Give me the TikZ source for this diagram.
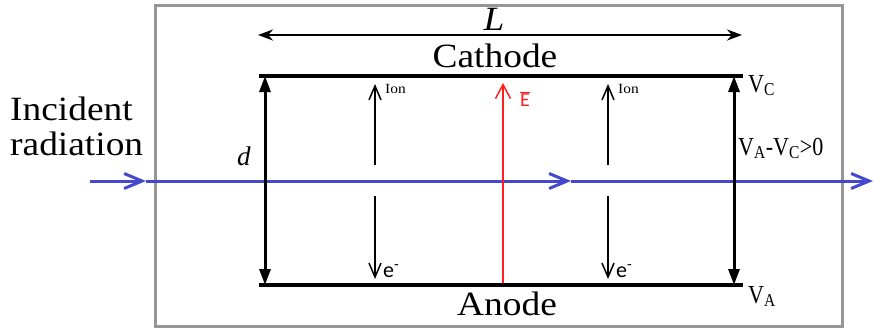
\documentclass[tikz,border=0pt]{standalone}
\usepackage{fontspec}
\usepackage{graphicx}
\setmainfont{Liberation Serif}
\newfontfamily\cfont{Carlito}
\newcommand\wideit[1]{\scalebox{1.1}[1]{#1}}
\newcommand\narrowit[1]{\scalebox{0.85}[1]{#1}}
\usetikzlibrary{arrows.meta}
\definecolor{beam}{RGB}{68,72,204}
\definecolor{fieldred}{RGB}{255,30,30}
\definecolor{framegray}{RGB}{150,150,150}
\begin{document}
\begin{tikzpicture}[x=1pt,y=-1pt,
  lbl/.style={inner sep=0pt, anchor=base west},
  big/.style={inner sep=0pt, anchor=base, font=\rmfamily\fontsize{34}{35}\selectfont},
  vlbl/.style={inner sep=0pt, anchor=base west, font=\rmfamily\fontsize{26}{28}\selectfont},
  plate/.style={line width=3.5pt},
  gap/.style={line width=3pt, {Triangle[length=16pt,width=11pt]}-{Triangle[length=16pt,width=11pt]}},
  span/.style={line width=2.5pt, {Stealth[length=15pt,width=11pt]}-{Stealth[length=15pt,width=11pt]}},
  drift/.style={line width=1.5pt, -{Straight Barb[length=14pt,width=12pt]}},
  ray/.style={draw=beam, line width=3pt, -{Straight Barb[length=18pt,width=15pt,line width=3pt]}},
  field/.style={draw=fieldred, line width=1.5pt, -{Straight Barb[length=14pt,width=15pt]}}
]
\useasboundingbox (0,0) rectangle (874,329);
% frame
\draw[framegray, line width=3pt] (155,6) rectangle (842,326);
% coordinates
\coordinate (cL) at (259,76);  \coordinate (cR) at (743,76);
\coordinate (aL) at (259,285); \coordinate (aR) at (743,285);
\coordinate (dT) at (265,76);  \coordinate (dB) at (265,285);
\coordinate (vT) at (734,76);  \coordinate (vB) at (734,285);
\coordinate (Ls) at (258,35);  \coordinate (Le) at (742,35);
\coordinate (b0) at (90,181);  \coordinate (b1) at (146,181);
\coordinate (b2) at (571,181); \coordinate (b3) at (873,181);
\coordinate (i1s) at (375,165); \coordinate (i1e) at (375,84);
\coordinate (i2s) at (608,165); \coordinate (i2e) at (608,84);
\coordinate (e1s) at (375,196); \coordinate (e1e) at (375,279);
\coordinate (e2s) at (608,196); \coordinate (e2e) at (608,279);
\coordinate (fS) at (503,283);  \coordinate (fE) at (503,83);
% beam
\draw[ray] (b0) -- (b1);
\draw[ray] (b1) -- (b2);
\draw[ray] (b2) -- (b3);
% plates
\draw[plate] (cL) -- (cR);
\draw[plate] (aL) -- (aR);
\draw[gap] (dB) -- (dT);
\draw[gap] (vB) -- (vT);
\draw[span] (Ls) -- (Le);
% drift arrows
\draw[drift] (i1s) -- (i1e);
\draw[drift] (i2s) -- (i2e);
\draw[drift] (e1s) -- (e1e);
\draw[drift] (e2s) -- (e2e);
\draw[field] (fS) -- (fE);
% labels
\node[big] (Lt) at (494,31) {\wideit{\itshape L}};
\node[big] (cat) at (495,67) {\wideit{Cathode}};
\node[big] (ano) at (507,315) {\wideit{Anode}};
\node[lbl, align=left, font=\rmfamily\fontsize{34}{35}\selectfont] (inc) at (10,155) {\wideit{Incident}\\\wideit{radiation}};
\node[lbl, font=\rmfamily\fontsize{27}{28}\selectfont\itshape] (dl) at (237,165) {d};
\node[lbl, font=\rmfamily\fontsize{14}{16}\selectfont] (ion1) at (385,93) {\wideit{Ion}};
\node[lbl, font=\rmfamily\fontsize{14}{16}\selectfont] (ion2) at (618,93) {\wideit{Ion}};
\node[lbl, font=\cfont\fontsize{22}{24}\selectfont] (el1) at (383,277) {e\textsuperscript{-}};
\node[lbl, font=\cfont\fontsize{22}{24}\selectfont] (el2) at (616,277) {e\textsuperscript{-}};
\node[lbl, text=fieldred, font=\cfont\fontsize{20}{22}\selectfont] (El) at (520,106) {$\overline{\hbox{\cfont\fontsize{20}{22}\selectfont E}}$};
\node[vlbl] (vc) at (748,92) {\narrowit{V\textsubscript{C}}};
\node[vlbl] (vac) at (738,155) {\narrowit{V\textsubscript{A}-V\textsubscript{C}>0}};
\node[vlbl] (va) at (748,303) {\narrowit{V\textsubscript{A}}};
\end{tikzpicture}
\end{document}
